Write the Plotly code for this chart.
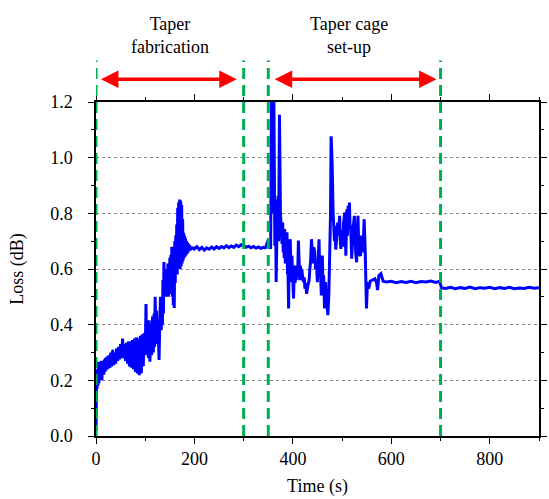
import plotly.graph_objects as go

# Loss trace during taper fabrication and taper-cage set-up
time_s = [
    0, 0.5, 1, 2, 3, 4, 5, 6, 7, 8, 9, 10, 11, 12, 13, 14, 15, 16, 17, 18, 19, 20,
    22, 24, 26, 28, 30, 32, 34, 36, 38, 40, 42, 44, 46, 48, 50, 52, 54, 56, 58, 60,
    62, 64, 66, 68, 70, 72, 74, 76, 78, 80, 82, 84, 86, 88, 90, 92, 94, 96, 98, 100,
    101.6, 103, 105, 106.5, 108, 109.5, 111.5, 113, 115, 116.5, 118, 119, 120.2, 121.5,
    123, 124.8, 126, 128.1, 129.5, 131, 132.5, 134, 135, 136, 137, 138, 139, 140,
    141, 142, 143, 144, 145, 146, 147, 148, 149, 150, 151, 152, 153, 154, 155, 156,
    157, 158, 159, 160, 161, 162, 163, 164, 165, 166, 167, 168, 169, 170, 171, 172,
    173, 174, 175, 176, 177, 178, 179, 180, 181, 182, 183, 184, 185, 186, 187, 188,
    189, 190, 192, 194, 196, 198,
    200, 205, 210, 215, 220, 225, 230, 235, 240, 245, 250, 255, 260, 265, 270, 275,
    280, 285, 290, 295, 300, 305, 310, 315, 320, 325, 330, 335, 340, 343,
    345, 348, 351.5, 354.8, 356.5, 358, 359, 360, 361.4, 363.4, 364.7, 366, 368, 370,
    371, 372.7, 374.7, 376.7, 378, 379.3, 380.3, 381.3, 382.3, 383.3, 384.6, 386, 387,
    388, 389, 390, 391.3, 392.6, 394.6, 395.6,
    396.6, 398, 399, 400, 401.3, 402.3, 403.3, 404.6, 406, 407, 408, 409, 410, 411.2,
    412.6, 414, 415.2, 416.5, 417.9, 419.5, 421.2, 423, 424.5, 426, 427.9, 429.5, 431.2,
    433, 434.5, 436, 437.8, 439.8, 441, 442.5, 444.5, 446, 447.8, 449.8, 451.5, 453.1,
    454.5, 455.8, 457.8, 459.8, 461, 462.4, 464.4, 466.4, 468, 469, 471, 473, 475, 476.4,
    477.7, 479.7, 481.7, 483, 484.5, 485.7, 487, 488.3, 489.5, 491, 493, 495, 496.5,
    497.6, 499, 500.3, 501.5, 503, 505.6, 507.6, 509.6, 511, 512.2, 513.5, 514.9, 516,
    517.6, 519.5, 521, 522.2, 524.9, 526, 527.5, 529.5, 531, 532.2, 533.5, 534.8, 536,
    537.5, 539, 540.2, 541.5, 542.8, 544.8, 546.8, 548.1, 549.5, 551.5, 554.1, 557,
    562, 566.8, 570, 572, 574.8, 578.8,
    583.4, 590, 600, 610, 620, 630, 640, 650, 660, 670, 680, 690, 698, 700, 702,
    710, 720, 730, 740, 750, 760, 770, 780, 790, 800, 810, 820, 830, 840, 850, 860,
    870, 880, 890, 900,
]

loss_db = [
    0.02, 0.15, 0.20, 0.17, 0.24, 0.18, 0.267, 0.19, 0.26, 0.20, 0.265, 0.21, 0.27, 0.20,
    0.26, 0.22, 0.27, 0.22, 0.275, 0.23, 0.28, 0.235,
    0.285, 0.24, 0.29, 0.245, 0.30, 0.25, 0.31, 0.255, 0.30, 0.26, 0.315, 0.27, 0.32,
    0.275, 0.33, 0.28, 0.35, 0.28, 0.33, 0.27,
    0.335, 0.26, 0.34, 0.25, 0.34, 0.245, 0.345, 0.24, 0.35, 0.23, 0.355, 0.225, 0.35,
    0.218, 0.36, 0.225, 0.365, 0.25, 0.37, 0.29,
    0.474, 0.30, 0.40, 0.28, 0.416, 0.267, 0.404, 0.29, 0.43, 0.30, 0.44, 0.32, 0.50, 0.35,
    0.45, 0.33, 0.42, 0.273, 0.40, 0.50, 0.38, 0.46, 0.40, 0.56, 0.44, 0.625, 0.50, 0.60,
    0.50, 0.59, 0.51, 0.60, 0.50, 0.62, 0.50, 0.62, 0.51, 0.64, 0.52, 0.65, 0.52, 0.68,
    0.50, 0.68,
    0.47, 0.68, 0.46, 0.70, 0.55, 0.72, 0.58, 0.76, 0.58, 0.82, 0.60, 0.84, 0.60, 0.85,
    0.60, 0.845,
    0.61, 0.83, 0.62, 0.78, 0.63, 0.73, 0.64, 0.72, 0.645, 0.71, 0.65, 0.70, 0.655, 0.695,
    0.66, 0.69,
    0.665, 0.685, 0.668, 0.68, 0.67, 0.678,
    0.672, 0.680, 0.670, 0.678, 0.668, 0.676, 0.671, 0.679, 0.672, 0.680, 0.674, 0.681,
    0.676, 0.684, 0.677, 0.683,
    0.678, 0.686, 0.680, 0.687, 0.684, 0.678, 0.682, 0.676, 0.681, 0.675, 0.679, 0.674,
    0.678, 0.676,
    0.678, 0.696, 0.707, 0.672, 1.2, 0.80, 1.2, 0.90, 1.2, 0.684, 0.85, 0.553, 0.767, 0.863,
    0.70, 1.154, 0.803, 0.72, 0.69, 0.767, 0.66, 0.696, 0.64, 0.744, 0.62, 0.66, 0.70,
    0.732, 0.58, 0.601, 0.458, 0.684, 0.707, 0.60,
    0.553, 0.648, 0.58, 0.505, 0.494, 0.56, 0.612, 0.55, 0.589, 0.56, 0.612, 0.57, 0.60, 0.702,
    0.60, 0.56, 0.612, 0.57, 0.60, 0.58, 0.553, 0.57,
    0.529, 0.55, 0.511, 0.53, 0.541, 0.56, 0.60, 0.63, 0.707, 0.648, 0.62, 0.678, 0.66,
    0.60, 0.624, 0.553, 0.62, 0.707,
    0.58, 0.60, 0.505, 0.648, 0.55, 0.577, 0.458, 0.553, 0.50, 0.481, 0.434, 0.505, 0.624,
    0.79,
    1.077, 0.982, 0.803, 0.72, 0.70, 0.755, 0.67, 0.696, 0.73, 0.767, 0.72, 0.791, 0.69,
    0.672, 0.74, 0.72, 0.68, 0.767, 0.803, 0.648, 0.815, 0.72, 0.827, 0.75, 0.839, 0.76,
    0.744, 0.637, 0.70, 0.744, 0.791, 0.70, 0.66, 0.624, 0.72, 0.791, 0.70, 0.684, 0.65,
    0.648, 0.72, 0.696, 0.66, 0.684, 0.779, 0.672, 0.553, 0.458, 0.553, 0.529, 0.556,
    0.56, 0.565, 0.55, 0.524, 0.577, 0.583,
    0.556, 0.553, 0.556, 0.551, 0.555, 0.552, 0.556, 0.551, 0.555, 0.553, 0.557, 0.552,
    0.556, 0.545, 0.532,
    0.530, 0.534, 0.529, 0.533, 0.530, 0.535, 0.529, 0.533, 0.531, 0.534, 0.529, 0.533,
    0.530, 0.534, 0.529, 0.532, 0.530, 0.534, 0.531, 0.533,
]

# Stage boundaries (s) and the two labelled stages
boundaries_s = [0, 300, 350, 700]
stages = [
    {"label": "Taper<br>fabrication", "start": 7, "end": 286, "center": 150},
    {"label": "Taper cage<br>set-up", "start": 360, "end": 692, "center": 515},
]

x_ticks = [0, 200, 400, 600, 800]
y_ticks = [0.0, 0.2, 0.4, 0.6, 0.8, 1.0, 1.2]
y_tick_text = ["0.0", "0.2", "0.4", "0.6", "0.8", "1.0", "1.2"]

SERIF = "Liberation Serif"

fig = go.Figure()
fig.add_trace(go.Scatter(
    x=time_s, y=loss_db, mode="lines",
    line=dict(color="#0000FF", width=3),
    showlegend=False,
))

# Green dashed stage boundaries, extending above the plot area
for b in boundaries_s:
    fig.add_shape(
        type="line", xref="x", yref="paper",
        x0=b, x1=b, y0=0, y1=1.124,
        line=dict(color="#00B050", width=3, dash="11px,6px"),
        layer="above",
    )

# Red double-headed arrows and stage captions
for st in stages:
    fig.add_annotation(
        x=st["end"], y=1.068, xref="x", yref="paper",
        ax=st["start"], ay=0, axref="x", ayref="pixel",
        text="", showarrow=True, arrowside="end+start",
        arrowhead=2, arrowsize=1.0, arrowwidth=3.5, arrowcolor="#FF0000",
        standoff=0, startstandoff=0,
    )
    fig.add_annotation(
        x=st["center"], y=1.2, xref="x", yref="paper",
        text=st["label"], showarrow=False,
        font=dict(family=SERIF, size=18, color="black"),
        xanchor="center", yanchor="middle",
    )

fig.update_layout(
    width=549, height=499,
    margin=dict(l=96, r=2, t=102, b=63),
    paper_bgcolor="white", plot_bgcolor="white",
    font=dict(family=SERIF, size=17, color="black"),
)
fig.update_xaxes(
    range=[0, 900], tickvals=x_ticks,
    tickfont=dict(family=SERIF, size=18),
    ticks="outside", ticklen=6, tickwidth=1.3, tickcolor="black",
    minor=dict(dtick=100, ticks="outside", ticklen=3, tickwidth=1.2, tickcolor="black"),
    showline=True, linecolor="black", linewidth=1.5, mirror="ticks",
    showgrid=False, zeroline=False,
    title=dict(text="Time (s)", font=dict(family=SERIF, size=18), standoff=11),
)
fig.update_yaxes(
    range=[0, 1.2], tickvals=y_ticks, ticktext=y_tick_text,
    tickfont=dict(family=SERIF, size=18), ticklabelstandoff=12,
    ticks="outside", ticklen=6, tickwidth=1.3, tickcolor="black",
    minor=dict(dtick=0.1, ticks="outside", ticklen=3, tickwidth=1.2, tickcolor="black",
               showgrid=False),
    showline=True, linecolor="black", linewidth=1.5, mirror="ticks",
    showgrid=True, gridcolor="#888888", gridwidth=1, griddash="dot",
    zeroline=False,
    title=dict(text="Loss (dB)", font=dict(family=SERIF, size=18), standoff=22),
)

fig.write_html("out.html")
